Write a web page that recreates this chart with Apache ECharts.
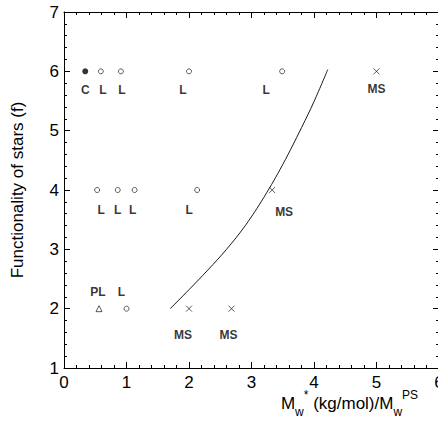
<!DOCTYPE html>
<html>
<head>
<meta charset="utf-8">
<script src="https://cdn.jsdelivr.net/npm/echarts@6/dist/echarts.min.js"></script>
<style>
  html, body { margin: 0; padding: 0; background: #fff; overflow: hidden; }
  #chart { width: 438px; height: 422px; }
</style>
</head>
<body>
<div id="chart"></div>
<script>
// Star polymers: reduced molecular weight vs. functionality, grouped by morphology
const combX = [0.34];
const combF = [6];
const combTags = ['C'];

const linearX = [0.59, 0.91, 2.0, 3.49, 0.53, 0.86, 1.13, 2.13, 1.0];
const linearF = [6, 6, 6, 6, 4, 4, 4, 4, 2];
const linearTags = ['L', 'L', 'L', 'L', 'L', 'L', 'L', 'L', 'L'];

const pomX = [0.56];
const pomF = [2];
const pomTags = ['PL'];

const msX = [5.0, 3.33, 2.0, 2.68];
const msF = [6, 4, 2, 2];
const msTags = ['MS', 'MS', 'MS', 'MS'];

// boundary curve
const boundX = [1.70, 2.00, 2.30, 2.60, 2.90, 3.20, 3.50, 3.80, 4.00, 4.22];
const boundF = [2.00, 2.32, 2.65, 3.00, 3.40, 3.88, 4.43, 5.05, 5.49, 6.03];

const xTicks = [0, 1, 2, 3, 4, 5, 6];
const yTicks = [1, 2, 3, 4, 5, 6, 7];

// label placement relative to each marker (pixels)
const tagNudge = {
  comb: [[0, 19]],
  linear: [[2, 19], [1, 19], [-6, 19], [-16, 19], [4, 20], [0, 20], [-2, 20], [-8, 20], [-5, -17]],
  pom: [[-1, -17]],
  ms: [[0, 18], [12, 22], [-6, 26], [-3, 26]]
};

const FONT = 'Liberation Sans, Arial, Helvetica, sans-serif';

function points(xs, ys, tags, nudges) {
  return xs.map((x, i) => ({
    value: [x, ys[i]],
    label: { show: true, formatter: tags[i], offset: nudges[i] }
  }));
}

function tagLabel() {
  return {
    show: true,
    position: 'inside',
    align: 'center',
    verticalAlign: 'middle',
    color: '#000',
    fontFamily: FONT,
    fontWeight: 'bold',
    fontSize: 12
  };
}

function frameAxis(extra) {
  return Object.assign({
    axisLine: { show: true, onZero: false, lineStyle: { color: '#000', width: 1 } },
    axisTick: { show: true, inside: true, length: 6, lineStyle: { color: '#000', width: 1 } },
    minorTick: { show: true, splitNumber: 5, length: 3, lineStyle: { color: '#000', width: 1 } },
    splitLine: { show: false },
    minorSplitLine: { show: false }
  }, extra);
}

const chart = echarts.init(document.getElementById('chart'), null, { renderer: 'svg' });

chart.setOption({
  animation: false,
  backgroundColor: '#fff',
  grid: { left: 64, right: -1, top: 12, bottom: 54, containLabel: false, outerBoundsMode: 'none' },
  xAxis: [
    frameAxis({
      type: 'value', position: 'bottom', min: xTicks[0], max: xTicks[xTicks.length - 1], interval: 1,
      axisLabel: {
        show: true, color: '#000', fontFamily: FONT, fontSize: 17, margin: 6,
        showMaxLabel: true, hideOverlap: false,
        formatter: v => xTicks.includes(v) ? String(v) : ''
      },
      name: '{m|M}{sub|w}{sup|*}{m| (kg/mol)/M}{sub|w}{sup|PS}',
      nameLocation: 'middle',
      nameGap: 21,
      nameMoveOverlap: false,
      nameTextStyle: {
        padding: [0, 0, 0, 196],
        rich: {
          m: { fontFamily: FONT, fontSize: 17, color: '#000', lineHeight: 29, verticalAlign: 'middle' },
          sub: { fontFamily: FONT, fontSize: 12, color: '#000', verticalAlign: 'bottom', lineHeight: 12 },
          sup: { fontFamily: FONT, fontSize: 12, color: '#000', verticalAlign: 'top', lineHeight: 12 }
        }
      }
    }),
    frameAxis({
      type: 'value', position: 'top', min: xTicks[0], max: xTicks[xTicks.length - 1], interval: 1,
      axisLabel: { show: false }
    })
  ],
  yAxis: [
    frameAxis({
      type: 'value', position: 'left', min: yTicks[0], max: yTicks[yTicks.length - 1], interval: 1,
      axisLabel: {
        show: true, color: '#000', fontFamily: FONT, fontSize: 17, margin: 5,
        padding: [14, 0, 0, 0],
        showMinLabel: true, showMaxLabel: true,
        formatter: v => yTicks.includes(v) ? String(v) : ''
      },
      name: 'Functionality of stars (f)',
      nameLocation: 'middle',
      nameGap: 38,
      nameMoveOverlap: false,
      nameTextStyle: { color: '#000', fontFamily: FONT, fontSize: 17 }
    }),
    frameAxis({
      type: 'value', position: 'right', min: yTicks[0], max: yTicks[yTicks.length - 1], interval: 1,
      axisLabel: { show: false }
    })
  ],
  series: [
    {
      name: 'boundary',
      type: 'line',
      data: boundX.map((x, i) => [x, boundF[i]]),
      smooth: 0.4,
      showSymbol: false,
      lineStyle: { color: '#000', width: 0.9 },
      silent: true
    },
    {
      name: 'comb',
      type: 'scatter',
      symbol: 'circle',
      symbolSize: 6,
      itemStyle: { color: '#000' },
      label: tagLabel(),
      data: points(combX, combF, combTags, tagNudge.comb)
    },
    {
      name: 'linear',
      type: 'scatter',
      symbol: 'circle',
      symbolSize: 5,
      itemStyle: { color: '#fff', borderColor: '#000', borderWidth: 0.8 },
      label: tagLabel(),
      data: points(linearX, linearF, linearTags, tagNudge.linear)
    },
    {
      name: 'pom-pom',
      type: 'scatter',
      symbol: 'triangle',
      symbolSize: 6,
      itemStyle: { color: '#fff', borderColor: '#000', borderWidth: 0.8 },
      label: tagLabel(),
      data: points(pomX, pomF, pomTags, tagNudge.pom)
    },
    {
      name: 'microphase',
      type: 'scatter',
      symbol: 'path://M0,0L10,10M10,0L0,10',
      symbolSize: 6,
      itemStyle: { color: 'none', borderColor: '#000', borderWidth: 0.8 },
      label: tagLabel(),
      data: points(msX, msF, msTags, tagNudge.ms)
    }
  ]
});
</script>
</body>
</html>
